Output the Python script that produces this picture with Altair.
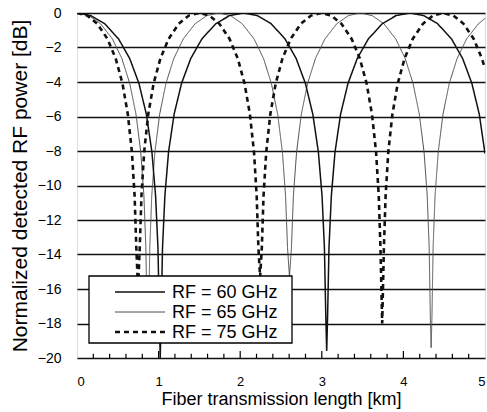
import altair as alt
import pandas as pd

series_names = ["RF = 60 GHz", "RF = 65 GHz", "RF = 75 GHz"]

len_60 = [0, 0.170, 0.340, 0.510, 0.646, 0.759, 0.850, 0.918, 0.963, 0.992, 1.009, 1.020,
          1.031, 1.048, 1.077, 1.122, 1.190, 1.281, 1.394, 1.530, 1.700, 1.870, 2.040,
          2.210, 2.380, 2.550, 2.686, 2.799, 2.890, 2.958, 3.003, 3.032, 3.049, 3.060,
          3.071, 3.088, 3.117, 3.162, 3.230, 3.321, 3.434, 3.570, 3.740, 3.910, 4.080,
          4.250, 4.420, 4.590, 4.726, 4.839, 4.930, 5.0]
db_60 = [0, -0.150, -0.625, -1.505, -2.639, -4.081, -5.870, -8.056, -10.597, -13.603, -17.581, -20,
         -17.581, -13.603, -10.597, -8.056, -5.870, -4.081, -2.639, -1.505, -0.625, -0.150, 0,
         -0.150, -0.625, -1.505, -2.639, -4.081, -5.870, -8.056, -10.597, -13.603, -17.581, -19.6,
         -17.581, -13.603, -10.597, -8.056, -5.870, -4.081, -2.639, -1.505, -0.625, -0.150, 0,
         -0.150, -0.625, -1.505, -2.639, -4.081, -5.870, -8.15]

len_65 = [0, 0.145, 0.289, 0.434, 0.550, 0.646, 0.723, 0.781, 0.820, 0.844, 0.858, 0.868,
          0.878, 0.892, 0.916, 0.955, 1.013, 1.090, 1.186, 1.302, 1.447, 1.591, 1.736,
          1.881, 2.025, 2.170, 2.286, 2.382, 2.459, 2.517, 2.556, 2.580, 2.604,
          2.628, 2.652, 2.691, 2.749, 2.826, 2.922, 3.038, 3.183, 3.327, 3.472,
          3.617, 3.761, 3.906, 4.022, 4.118, 4.195, 4.253, 4.292, 4.316, 4.330, 4.340,
          4.350, 4.364, 4.388, 4.427, 4.485, 4.562, 4.658, 4.774, 4.919, 5.0]
db_65 = [0, -0.150, -0.625, -1.505, -2.639, -4.081, -5.870, -8.056, -10.597, -13.603, -17.581, -18.5,
         -17.581, -13.603, -10.597, -8.056, -5.870, -4.081, -2.639, -1.505, -0.625, -0.150, 0,
         -0.150, -0.625, -1.505, -2.639, -4.081, -5.870, -8.056, -10.597, -13.603, -15.3,
         -13.603, -10.597, -8.056, -5.870, -4.081, -2.639, -1.505, -0.625, -0.150, 0,
         -0.150, -0.625, -1.505, -2.639, -4.081, -5.870, -8.056, -10.597, -13.603, -17.581, -19.4,
         -17.581, -13.603, -10.597, -8.056, -5.870, -4.081, -2.639, -1.505, -0.625, -0.316]

len_75 = [0, 0.125, 0.249, 0.374, 0.474, 0.557, 0.623, 0.673, 0.706, 0.727, 0.748,
          0.769, 0.790, 0.823, 0.873, 0.939, 1.022, 1.122, 1.247, 1.371, 1.496,
          1.621, 1.745, 1.870, 1.970, 2.053, 2.119, 2.169, 2.202, 2.223, 2.244,
          2.265, 2.286, 2.319, 2.369, 2.435, 2.518, 2.618, 2.743, 2.867, 2.992,
          3.117, 3.241, 3.366, 3.466, 3.549, 3.615, 3.665, 3.698, 3.719, 3.740,
          3.761, 3.782, 3.815, 3.865, 3.931, 4.014, 4.114, 4.239, 4.363, 4.488,
          4.613, 4.737, 4.862, 4.962, 5.0]
db_75 = [0, -0.150, -0.625, -1.505, -2.639, -4.081, -5.870, -8.056, -10.597, -13.603, -16,
         -13.603, -10.597, -8.056, -5.870, -4.081, -2.639, -1.505, -0.625, -0.150, 0,
         -0.150, -0.625, -1.505, -2.639, -4.081, -5.870, -8.056, -10.597, -13.603, -15.3,
         -13.603, -10.597, -8.056, -5.870, -4.081, -2.639, -1.505, -0.625, -0.150, 0,
         -0.150, -0.625, -1.505, -2.639, -4.081, -5.870, -8.056, -10.597, -13.603, -18,
         -13.603, -10.597, -8.056, -5.870, -4.081, -2.639, -1.505, -0.625, -0.150, 0,
         -0.150, -0.625, -1.505, -2.639, -3.228]

y_ticks = [0, -2, -4, -6, -8, -10, -12, -14, -16, -18, -20]
x_labels = [0, 1, 2, 3, 4, 5]
minor_ticks = [0.2, 0.4, 0.6, 0.8, 1.2, 1.4, 1.6, 1.8, 2.2, 2.4, 2.6, 2.8,
               3.2, 3.4, 3.6, 3.8, 4.2, 4.4, 4.6, 4.8]
major_ticks = [1, 2, 3, 4]

rows = []
for name, xs, ys in zip(series_names, [len_60, len_65, len_75], [db_60, db_65, db_75]):
    for i, (a, b) in enumerate(zip(xs, ys)):
        rows.append({"series": name, "L": a, "P": b, "order": i})
df = pd.DataFrame(rows)

FONT = "Liberation Sans"
x_scale = alt.Scale(domain=[0, 5], nice=False, zero=False)
y_scale = alt.Scale(domain=[-20, 0], nice=False, zero=False)

x_axis = alt.Axis(
    values=x_labels, format="d", ticks=False, domain=False, grid=False,
    labelFontSize=13, labelPadding=17, labelColor="black", labelFont=FONT,
    title="Fiber transmission length [km]", titleFontSize=18, titleFontWeight="normal",
    titleFont=FONT, titleColor="black", titlePadding=2)
y_axis = alt.Axis(
    values=y_ticks, ticks=False, domain=False, grid=True, gridColor="#111111",
    gridWidth=1.4, gridOpacity=1, labelFontSize=14, labelPadding=16, labelColor="black",
    labelFont=FONT, title="Normalized detected RF power [dB]", titleFontSize=21,
    titleFontWeight="normal", titleFont=FONT, titleColor="black", titlePadding=7)

# line styles per series
styles = {
    "RF = 60 GHz": {"color": "#111111", "strokeWidth": 1.5, "strokeDash": [1, 0]},
    "RF = 65 GHz": {"color": "#4d4d4d", "strokeWidth": 1.0, "strokeDash": [1, 0]},
    "RF = 75 GHz": {"color": "#111111", "strokeWidth": 2.6, "strokeDash": [5, 4]},
}

base = alt.Chart(df).encode(
    x=alt.X("L:Q", scale=x_scale, axis=x_axis),
    y=alt.Y("P:Q", scale=y_scale, axis=y_axis),
    order="order:Q",
)
line_layers = []
for name in ["RF = 65 GHz", "RF = 60 GHz", "RF = 75 GHz"]:
    s = styles[name]
    line_layers.append(
        base.transform_filter(alt.datum.series == name).mark_line(
            clip=True, color=s["color"], strokeWidth=s["strokeWidth"], strokeDash=s["strokeDash"])
    )

tick_df = pd.DataFrame({"t": minor_ticks + major_ticks,
                        "kind": ["minor"] * len(minor_ticks) + ["major"] * len(major_ticks)})
ticks = alt.Chart(tick_df).transform_calculate(
    y0="-20", y1="datum.kind == 'major' ? -19.6 : -19.75"
).mark_rule(color="black", strokeWidth=1.2).encode(
    x=alt.X("t:Q", scale=x_scale, axis=x_axis),
    y=alt.Y("y0:Q", scale=y_scale, axis=y_axis),
    y2="y1:Q",
)

# legend box (guide, drawn in pixel space of the plot area)
legend_df = pd.DataFrame({"label": series_names})
legend_layers = [
    alt.Chart(legend_df.head(1)).mark_rect(fill="white", stroke="black", strokeWidth=1.3).encode(
        x=alt.value(12), x2=alt.value(215), y=alt.value(263), y2=alt.value(330))
]
row_y = [279, 299, 319]
for i, name in enumerate(series_names):
    s = styles[name]
    one = legend_df[legend_df["label"] == name]
    legend_layers.append(
        alt.Chart(one).mark_rule(color=s["color"], strokeWidth=s["strokeWidth"], strokeDash=s["strokeDash"]).encode(
            x=alt.value(38), x2=alt.value(88), y=alt.value(row_y[i]))
    )
    legend_layers.append(
        alt.Chart(one).mark_text(align="left", baseline="middle", fontSize=18, font=FONT, color="black").encode(
            x=alt.value(95), y=alt.value(row_y[i] + 1), text="label:N")
    )

chart = alt.layer(*line_layers, ticks, *legend_layers).properties(
    width=408, height=345,
    autosize=alt.AutoSizeParams(type="none"),
    padding={"left": 77, "top": 13, "right": 2, "bottom": 54},
    background="white",
).configure_view(stroke="black", strokeWidth=1.5).configure(font=FONT)

chart.save("out.html", embed_options={"renderer": "svg", "actions": False})
